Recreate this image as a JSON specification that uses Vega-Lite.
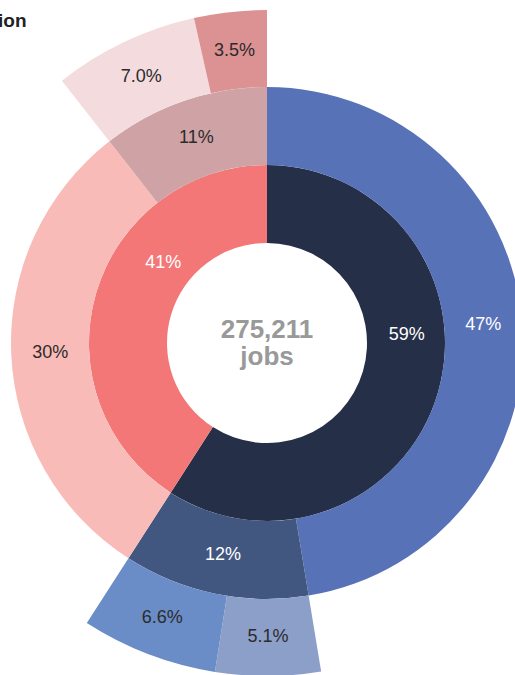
{
  "$schema": "https://vega.github.io/schema/vega-lite/v6.json",
  "width": 496,
  "height": 664,
  "autosize": {"type": "none"},
  "padding": {"left": 19, "top": 11, "right": 0, "bottom": 0},
  "background": "white",
  "title": {"text": "ion", "anchor": "start", "frame": "group", "font": "Liberation Sans", "fontSize": 19, "fontWeight": "bold", "color": "#222222", "baseline": "alphabetic", "offset": 0, "dx": -21, "dy": 36},
  "config": {"view": {"stroke": null}},
  "datasets": {
    "rings": [
      {"ring": "inner", "name": "A", "kind": "part", "ord": 1, "share": 0.591},
      {"ring": "inner", "name": "B", "kind": "part", "ord": 2, "share": 0.409},
      {"ring": "middle", "name": "A1", "kind": "part", "ord": 1, "share": 0.474},
      {"ring": "middle", "name": "A2", "kind": "part", "ord": 2, "share": 0.117},
      {"ring": "middle", "name": "B1", "kind": "part", "ord": 3, "share": 0.3034},
      {"ring": "middle", "name": "B2", "kind": "part", "ord": 4, "share": 0.1056},
      {"ring": "outer", "name": "A1 rest", "kind": "rest", "ord": 1, "share": 0.474},
      {"ring": "outer", "name": "A2a", "kind": "part", "ord": 2, "share": 0.051},
      {"ring": "outer", "name": "A2b", "kind": "part", "ord": 3, "share": 0.066},
      {"ring": "outer", "name": "B1 rest", "kind": "rest", "ord": 4, "share": 0.3034},
      {"ring": "outer", "name": "B2a", "kind": "part", "ord": 5, "share": 0.0704},
      {"ring": "outer", "name": "B2b", "kind": "part", "ord": 6, "share": 0.0352}
    ],
    "total": [{"total": 275211, "unit": "jobs"}]
  },
  "data": {"name": "rings"},
  "encoding": {
    "theta": {"field": "share", "type": "quantitative", "stack": true, "scale": {"domain": [0, 1]}},
    "order": {"field": "ord", "type": "quantitative"}
  },
  "layer": [
    {
      "transform": [{"filter": "datum.ring == 'inner'"}],
      "mark": {"type": "arc", "radius": 178, "radius2": 100},
      "encoding": {
        "color": {"field": "name", "type": "nominal", "legend": null,
          "scale": {"domain": ["A", "B", "A1", "A2", "B1", "B2", "A2a", "A2b", "B2a", "B2b", "A1 rest", "B1 rest"],
                    "range": ["#262F48", "#F37777", "#5872B8", "#42577F", "#F9BBB8", "#CFA2A5", "#8C9FC9", "#6A8DC8", "#F3DBDE", "#DC9193", "#ffffff", "#ffffff"]}}
      }
    },
    {
      "transform": [{"filter": "datum.ring == 'middle'"}],
      "mark": {"type": "arc", "radius": 256, "radius2": 178},
      "encoding": {"color": {"field": "name", "type": "nominal", "legend": null}}
    },
    {
      "transform": [{"filter": "datum.ring == 'outer'"}],
      "mark": {"type": "arc", "radius": 333, "radius2": 256},
      "encoding": {
        "color": {"field": "name", "type": "nominal", "legend": null},
        "opacity": {"condition": {"test": "datum.kind == 'rest'", "value": 0}, "value": 1}
      }
    },
    {
      "transform": [{"filter": "datum.ring == 'inner'"}],
      "mark": {"type": "text", "radius": 127, "dx": 18, "dy": -44, "font": "Liberation Sans", "fontSize": 18, "align": "center", "baseline": "middle", "fill": "white"},
      "encoding": {"text": {"field": "share", "type": "quantitative", "format": ".2p"}}
    },
    {
      "transform": [{"filter": "datum.ring == 'middle'"}],
      "mark": {"type": "text", "radius": 217, "font": "Liberation Sans", "fontSize": 18, "align": "center", "baseline": "middle"},
      "encoding": {
        "text": {"field": "share", "type": "quantitative", "format": ".2p"},
        "fill": {"condition": {"test": "datum.name == 'A1' || datum.name == 'A2'", "value": "white"}, "value": "#2b2b2b"}
      }
    },
    {
      "transform": [{"filter": "datum.ring == 'outer'"}],
      "mark": {"type": "text", "radius": 294, "font": "Liberation Sans", "fontSize": 18, "align": "center", "baseline": "middle", "fill": "#2b2b2b"},
      "encoding": {
        "text": {"field": "share", "type": "quantitative", "format": ".2p"},
        "opacity": {"condition": {"test": "datum.kind == 'rest'", "value": 0}, "value": 1}
      }
    },
    {
      "data": {"name": "total"},
      "transform": [{"calculate": "format(datum.total, ',') + '\\n' + datum.unit", "as": "caption"}],
      "mark": {"type": "text", "font": "Liberation Sans", "fontSize": 26, "fontWeight": "bold", "align": "center", "baseline": "alphabetic", "lineBreak": "\n", "lineHeight": 27, "dy": -5, "fill": "#999999"},
      "encoding": {"theta": null, "order": null, "text": {"field": "caption", "type": "nominal"}}
    }
  ]
}
